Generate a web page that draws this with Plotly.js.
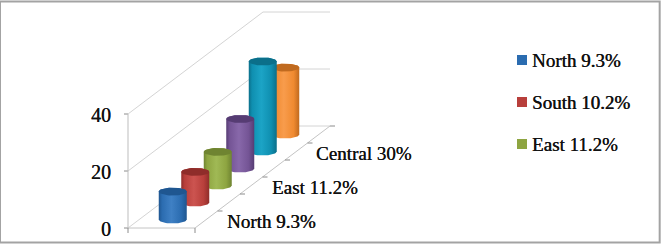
<!DOCTYPE html>
<html>
<head>
<meta charset="utf-8">
<script src="https://cdn.plot.ly/plotly-3.0.1.min.js"></script>
<style>html,body{margin:0;padding:0;background:#fff}#chart{width:661px;height:244px}</style>
</head>
<body>
<div id="chart"></div>
<script>
var categories = ["North 9.3%", "South 10.2%", "East 11.2%", "", "Central 30%", ""];
var values = [9.3, 10.2, 11.2, 16.5, 30, 22.3];
var sideColors = ["#2b6cb0", "#b83f3b", "#8ea541", "#745495", "#0f8fb0", "#f08a30"];
var darkColors = ["#1f5690", "#8f2d2a", "#6f8431", "#563c73", "#0b6f8a", "#c06a1f"];
var lightColors = ["#3f80c4", "#cc5450", "#a0b955", "#8868aa", "#1ca4c6", "#f89c4c"];
var legendNames = ["North 9.3%", "South 10.2%", "East 11.2%"];
var valueTicks = [0, 20, 40];
var FONT = "Liberation Serif";
var SHADOW = "0.35px 0 0 #111";

// oblique projection of (side 0..1, depth 0..n, value) onto the pixel-ranged axes
var n = categories.length;
var O = {x: 128, y: 228, w: 67, dx: 135 / n, dy: 17, k: 2.85, kBar: 3.0};
function px(s, d) { return O.x + s * O.w + d * O.dx; }
function py(d, v) { return O.y - d * O.dy - v * O.k; }

var traces = [], annotations = [];
function seg(xs, ys, color, width) {
  traces.push({x: xs, y: ys, type: "scatter", mode: "lines", showlegend: false, hoverinfo: "skip",
    line: {color: color, width: width || 1}});
}
function label(x, y, text, anchor, size) {
  annotations.push({x: x, y: y, xref: "x", yref: "y", xanchor: anchor, yanchor: "middle",
    text: text, showarrow: false, font: {family: FONT, size: size, color: "#111", shadow: SHADOW}});
}
var grid = "#d4d4d4", tick = "#8c8c8c";
valueTicks.forEach(function (v) {
  seg([px(0, 0), px(0, n), px(1, n)], [py(0, v), py(n, v), py(n, v)], grid);
  seg([px(0, 0) - 4, px(0, 0)], [py(0, v), py(0, v)], tick);
  label(113, py(0, v) + 1, String(v), "right", 20);
});
seg([px(0, 0), px(0, 0)], [py(0, 0), py(0, 40)], "#bdbdbd");
seg([px(0, 0), px(1, 0), px(1, n)], [py(0, 0), py(0, 0), py(n, 0)], "#c4c4c4");
[0, 1].forEach(function (s) {
  seg([px(s, 0), px(s, 0)], [py(0, 0), py(0, 0) + 5], tick);
});
for (var t = 1; t <= n; t++) seg([px(1, t), px(1, t) + 5], [py(t, 0), py(t, 0)], tick);

// cylinders, back to front
var R = 14, E = 4;
for (var i = n - 1; i >= 0; i--) {
  var cx = px(0.5, i + 0.5), y0 = py(i + 0.5, 0), y1 = y0 - values[i] * O.kBar;
  var sx = [], sy = [], tx = [], ty = [], a;
  for (a = 0; a <= 24; a++) { // bottom front arc, left to right
    var th = Math.PI * a / 24;
    sx.push(cx - R * Math.cos(th)); sy.push(y0 + E * Math.sin(th));
  }
  for (a = 0; a <= 24; a++) { // top back arc, right to left
    var th2 = Math.PI * a / 24;
    sx.push(cx + R * Math.cos(th2)); sy.push(y1 - E * Math.sin(th2));
  }
  sx.push(sx[0]); sy.push(sy[0]);
  for (a = 0; a <= 48; a++) {
    var th3 = 2 * Math.PI * a / 48;
    tx.push(cx + R * Math.cos(th3)); ty.push(y1 + E * Math.sin(th3));
  }
  traces.push({x: sx, y: sy, type: "scatter", mode: "lines", fill: "toself", showlegend: false,
    name: categories[i], hoverinfo: "skip", line: {width: 0, color: sideColors[i]},
    fillgradient: {type: "horizontal", colorscale: [[0, darkColors[i]], [0.12, sideColors[i]],
      [0.45, lightColors[i]], [0.8, sideColors[i]], [1, darkColors[i]]]}});
  traces.push({x: tx, y: ty, type: "scatter", mode: "lines", fill: "toself", showlegend: false,
    hoverinfo: "skip", fillcolor: darkColors[i], line: {width: 0, color: darkColors[i]}});
}

// tick labels on the floor edge
[[0, 225, 221], [2, 270, 187], [4, 314, 153]].forEach(function (p) {
  label(p[1], p[2], categories[p[0]], "left", 19);
});

// legend: swatch plus text
legendNames.forEach(function (name, j) {
  var ly = 60 + j * 42;
  traces.push({x: [522], y: [ly], type: "scatter", mode: "markers", name: name, showlegend: false,
    marker: {symbol: "square", size: 10, color: sideColors[j]}, hoverinfo: "skip"});
  label(530, ly, name, "left", 19);
});

var layout = {
  width: 661, height: 244, margin: {l: 0, r: 0, t: 0, b: 0},
  paper_bgcolor: "#fff", plot_bgcolor: "#fff", annotations: annotations,
  xaxis: {range: [0, 661], visible: false, fixedrange: true},
  yaxis: {range: [244, 0], visible: false, fixedrange: true},
  showlegend: false,
  shapes: [{type: "rect", xref: "paper", yref: "paper", x0: 0, x1: 0.998, y0: 0.006, y1: 0.994,
    line: {color: "#a3a3a3", width: 2}, layer: "above"}]
};
Plotly.newPlot("chart", traces, layout, {displayModeBar: false, staticPlot: true});
</script>
</body>
</html>
